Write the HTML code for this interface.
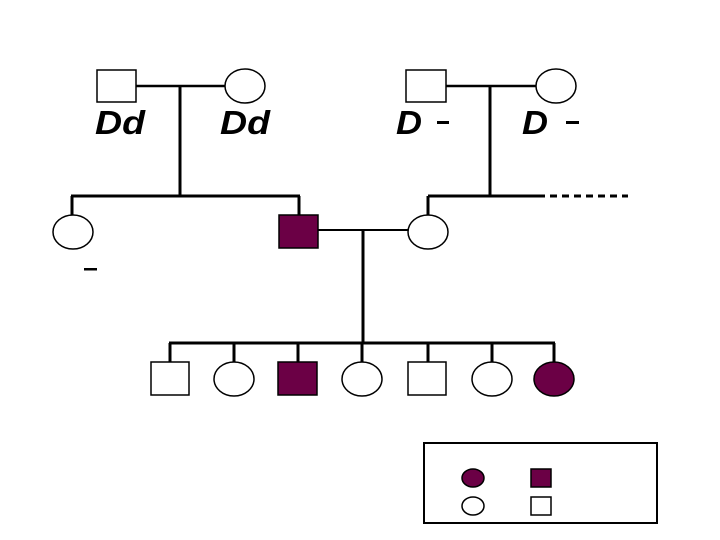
<!DOCTYPE html>
<html><head><meta charset="utf-8"><style>
html,body{margin:0;padding:0;background:#fff;}
svg{display:block;}
text{font-family:"Liberation Sans",sans-serif;font-weight:bold;font-style:italic;fill:#000;}
</style></head><body>
<svg width="720" height="540" viewBox="0 0 720 540" xmlns="http://www.w3.org/2000/svg">
<g stroke="#000" stroke-width="3" fill="none">
  <line x1="136" y1="86" x2="225" y2="86" stroke-width="2.5"/>
  <line x1="180" y1="86" x2="180" y2="196"/>
  <line x1="71" y1="196" x2="300" y2="196"/>
  <line x1="72" y1="196" x2="72" y2="216"/>
  <line x1="299" y1="196" x2="299" y2="215"/>
  <line x1="446" y1="86" x2="536" y2="86" stroke-width="2.5"/>
  <line x1="490" y1="86" x2="490" y2="196"/>
  <line x1="428" y1="196" x2="538" y2="196"/>
  <line x1="538" y1="196" x2="628" y2="196" stroke-dasharray="7,5"/>
  <line x1="428" y1="196" x2="428" y2="216"/>
  <line x1="318" y1="230" x2="408" y2="230" stroke-width="2"/>
  <line x1="363" y1="230" x2="363" y2="343"/>
  <line x1="169" y1="343" x2="555" y2="343"/>
  <line x1="170" y1="343" x2="170" y2="362"/>
  <line x1="234" y1="343" x2="234" y2="362"/>
  <line x1="298" y1="343" x2="298" y2="362"/>
  <line x1="362" y1="343" x2="362" y2="362"/>
  <line x1="428" y1="343" x2="428" y2="362"/>
  <line x1="492" y1="343" x2="492" y2="362"/>
  <line x1="554" y1="343" x2="554" y2="362"/>
</g>
<g stroke="#000" stroke-width="1.5" fill="#fff">
  <rect x="97" y="70" width="39" height="32"/>
  <ellipse cx="245" cy="86" rx="20" ry="17"/>
  <rect x="406" y="70" width="40" height="32"/>
  <ellipse cx="556" cy="86" rx="20" ry="17"/>
  <ellipse cx="73" cy="232" rx="20" ry="17"/>
  <rect x="279" y="215" width="39" height="33" fill="#6b0045"/>
  <ellipse cx="428" cy="232" rx="20" ry="17"/>
  <rect x="151" y="362" width="38" height="33"/>
  <ellipse cx="234" cy="379" rx="20" ry="17"/>
  <rect x="278" y="362" width="39" height="33" fill="#6b0045"/>
  <ellipse cx="362" cy="379" rx="20" ry="17"/>
  <rect x="408" y="362" width="38" height="33"/>
  <ellipse cx="492" cy="379" rx="20" ry="17"/>
  <ellipse cx="554" cy="379" rx="20" ry="17" fill="#6b0045"/>
  <rect x="424" y="443" width="233" height="80" fill="none" stroke-width="2"/>
  <ellipse cx="473" cy="478" rx="11" ry="9" fill="#6b0045"/>
  <rect x="531" y="469" width="20" height="18" fill="#6b0045"/>
  <ellipse cx="473" cy="506" rx="11" ry="9"/>
  <rect x="531" y="497" width="20" height="18"/>
</g>
<text x="95" y="134" font-size="33" textLength="50" lengthAdjust="spacingAndGlyphs">Dd</text>
<text x="220" y="134" font-size="33" textLength="50" lengthAdjust="spacingAndGlyphs">Dd</text>
<text x="396" y="134" font-size="33" textLength="26" lengthAdjust="spacingAndGlyphs">D</text>
<text x="522" y="134" font-size="33" textLength="26" lengthAdjust="spacingAndGlyphs">D</text>
<g fill="#000">
  <rect x="437" y="121" width="12" height="3"/>
  <rect x="566" y="121" width="13" height="3"/>
  <rect x="84" y="268" width="13" height="2.5"/>
</g>
</svg>
</body></html>
